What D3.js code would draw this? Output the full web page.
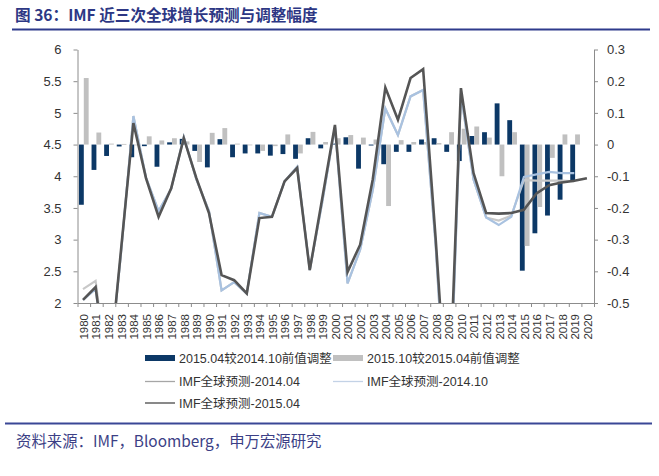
<!DOCTYPE html>
<html><head><meta charset="utf-8">
<script src="https://cdn.jsdelivr.net/npm/d3@7"></script>
<style>
body{margin:0;background:#fff;}
svg{display:block;font-family:"Liberation Sans","Noto Sans CJK SC",Arial,sans-serif;}
</style></head><body>
<svg id="c" width="659" height="476"></svg>
<script>
const years = [1980,1981,1982,1983,1984,1985,1986,1987,1988,1989,1990,1991,1992,1993,1994,1995,1996,1997,1998,1999,2000,2001,2002,2003,2004,2005,2006,2007,2008,2009,2010,2011,2012,2013,2014,2015,2016,2017,2018,2019,2020];
// bars (right axis)
const adj1504 = [-0.19,-0.08,-0.036,-0.006,-0.04,-0.005,-0.07,0.007,0.018,-0.02,-0.072,0.017,-0.04,-0.028,-0.028,-0.035,-0.03,-0.045,0.02,-0.012,0.003,0.023,-0.076,-0.003,-0.062,-0.023,-0.023,0.016,0.02,-0.023,-0.052,0.027,0.039,0.13,0.077,-0.398,-0.28,-0.224,-0.174,-0.113,null];
const adj1510 = [0.21,0.038,0.003,0.002,0.0,0.026,0.013,0.02,0.01,-0.055,0.037,0.052,0.003,0.0,-0.02,-0.005,0.032,-0.028,0.04,0.008,0.02,0.03,0.022,0.016,-0.194,0.014,0.008,0.008,0.005,0.039,0.05,0.057,0.022,-0.1,0.039,-0.32,-0.197,-0.042,0.032,0.032,null];
// lines (left axis)
const imf1404 = [2.22,2.35,0.8,2.75,4.95,3.98,3.45,3.8,4.62,3.95,3.45,2.2,2.33,2.15,3.42,3.36,3.92,4.15,2.52,3.6,4.78,2.31,2.84,3.78,5.07,4.65,5.26,5.36,2.9,-0.4,5.3,3.95,3.35,3.3,3.38,3.94,3.93,3.93,3.93,3.92,null];
const imf1410 = [2.05,2.22,0.8,2.75,4.95,3.98,3.45,3.8,4.62,3.95,3.45,2.2,2.33,2.15,3.42,3.36,3.92,4.15,2.52,3.6,4.78,2.31,2.84,3.78,5.07,4.65,5.26,5.36,2.9,-0.4,5.3,3.95,3.35,3.23,3.36,3.99,4.03,4.07,4.05,4.05,null];
const imf1504 = [2.05,2.25,0.75,2.8,4.84,3.97,3.36,3.81,4.6,3.97,3.42,2.44,2.36,2.15,3.34,3.36,3.92,4.13,2.52,3.66,4.81,2.49,2.92,3.95,5.4,4.89,5.55,5.69,3.0,0.0,5.39,4.05,3.42,3.41,3.42,3.47,3.73,3.86,3.9,3.93,3.97];
const leftTicks = [2,2.5,3,3.5,4,4.5,5,5.5,6];
const rightTicks = [-0.5,-0.4,-0.3,-0.2,-0.1,0,0.1,0.2,0.3];
const barNames = ["2015.04较2014.10前值调整","2015.10较2015.04前值调整"];
const lineNames = ["IMF全球预测-2014.04","IMF全球预测-2014.10","IMF全球预测-2015.04"];
const titleText = "图 36：IMF 近三次全球增长预测与调整幅度";
const sourceText = "资料来源：IMF，Bloomberg，申万宏源研究";

const svg = d3.select("#c");
const L = 77.5, R = 594, T = 49.5, B = 303;
const x = d3.scaleBand().domain(years).range([L, R]).padding(0);
const xs = d3.scaleBand().domain([0, 1]).range([0, x.bandwidth()]).paddingInner(0).paddingOuter(0.3);
const yL = d3.scaleLinear().domain([2, 6]).range([B, T]);
const yR = d3.scaleLinear().domain([-0.5, 0.3]).range([B, T]);
const axisCol = "#8c8c8c", txtCol = "#333";

// title & footer
svg.append("text").attr("x", 15).attr("y", 21).attr("font-family", "'Noto Sans CJK SC',sans-serif")
  .attr("font-size", 15.6).attr("font-weight", "bold").attr("fill", "#2d3784").text(titleText);
svg.append("line").attr("x1", 12).attr("x2", 650).attr("y1", 29.5).attr("y2", 29.5).attr("stroke", "#2e3b8c").attr("stroke-width", 2.2);
svg.append("line").attr("x1", 5).attr("x2", 652).attr("y1", 423.5).attr("y2", 423.5).attr("stroke", "#3a4796").attr("stroke-width", 2.2);
svg.append("text").attr("x", 16).attr("y", 446.5).attr("font-family", "'Noto Sans CJK SC',sans-serif")
  .attr("font-size", 15.4).attr("fill", "#3c3f86").text(sourceText);

// clip
svg.append("clipPath").attr("id", "pc").append("rect").attr("x", L).attr("y", T).attr("width", R - L).attr("height", B - T);

// bars
const barCols = ["#0c3866", "#c0c0c0"];
[adj1504, adj1510].forEach((arr, k) => {
  svg.append("g").selectAll("rect").data(years.map((yr, i) => ({yr, v: arr[i]})).filter(d => d.v !== null))
    .join("rect")
    .attr("x", d => x(d.yr) + xs(k))
    .attr("width", xs.bandwidth())
    .attr("y", d => Math.min(yR(d.v), yR(0)))
    .attr("height", d => Math.max(Math.abs(yR(d.v) - yR(0)), 0.8))
    .attr("fill", barCols[k]);
});

// lines
const lineCols = ["#c8c8c8", "#a9c2e0", "#555555"];
const lineW = [2.2, 2.2, 2.6];
[imf1404, imf1410, imf1504].forEach((arr, k) => {
  const gen = d3.line().defined(d => d.v !== null).x(d => x(d.yr) + x.bandwidth() / 2 - 0.8).y(d => yL(d.v));
  svg.append("path").attr("clip-path", "url(#pc)")
    .datum(years.map((yr, i) => ({yr, v: arr[i]})))
    .attr("d", gen).attr("fill", "none").attr("stroke", lineCols[k]).attr("stroke-width", lineW[k]).attr("stroke-linejoin", "miter");
});

// axes
function styleAxis(g) {
  g.select(".domain").attr("stroke", axisCol);
  g.selectAll(".tick line").attr("stroke", axisCol);
  g.selectAll("text").attr("fill", txtCol).attr("font-family", "'Liberation Sans',Arial,sans-serif");
}
const fmt = d => String(Math.round(d * 10) / 10);
svg.append("g").attr("transform", `translate(${L},0)`)
  .call(d3.axisLeft(yL).tickValues(leftTicks).tickFormat(fmt).tickSize(4).tickSizeOuter(0).tickPadding(12))
  .call(styleAxis).selectAll("text").attr("font-size", 13);
svg.append("g").attr("transform", `translate(${R},0)`)
  .call(d3.axisRight(yR).tickValues(rightTicks).tickFormat(fmt).tickSize(4).tickSizeOuter(0).tickPadding(9))
  .call(styleAxis).selectAll("text").attr("font-size", 13);
const xb = d3.scaleLinear().domain([0, years.length]).range([L, R]);
svg.append("g").attr("transform", `translate(0,${B})`)
  .call(d3.axisBottom(xb).tickValues(d3.range(years.length + 1)).tickFormat("").tickSize(4).tickSizeOuter(0))
  .call(styleAxis);
const gx = svg.append("g").attr("transform", `translate(0,${B})`)
  .call(d3.axisBottom(x).tickSize(0).tickSizeOuter(0));
gx.select(".domain").remove();
gx.selectAll("text").attr("transform", "rotate(-90)").attr("text-anchor", "end")
  .attr("x", -11).attr("y", 0).attr("dy", "0.35em").attr("font-size", 11.5)
  .attr("fill", txtCol).attr("font-family", "'Liberation Sans',Arial,sans-serif");

// legend
const lg = svg.append("g").attr("font-size", 12.5).attr("fill", txtCol);
const legItems = [
  {name: barNames[0], type: "bar", col: barCols[0], lx: 145, ly: 358},
  {name: barNames[1], type: "bar", col: barCols[1], lx: 333, ly: 358},
  {name: lineNames[0], type: "line", col: "#a6a6a6", lx: 145, ly: 381.5},
  {name: lineNames[1], type: "line", col: "#c3d2e6", lx: 333, ly: 381.5},
  {name: lineNames[2], type: "line", col: "#4a4a4a", lx: 145, ly: 403}
];
legItems.forEach(it => {
  if (it.type === "bar") lg.append("rect").attr("x", it.lx).attr("y", it.ly - 3).attr("width", 30).attr("height", 6).attr("fill", it.col);
  else lg.append("line").attr("x1", it.lx).attr("x2", it.lx + 30).attr("y1", it.ly).attr("y2", it.ly).attr("stroke", it.col).attr("stroke-width", 1.3);
  lg.append("text").attr("x", it.lx + 34).attr("y", it.ly).attr("dy", "0.36em").text(it.name);
});
</script></body></html>
